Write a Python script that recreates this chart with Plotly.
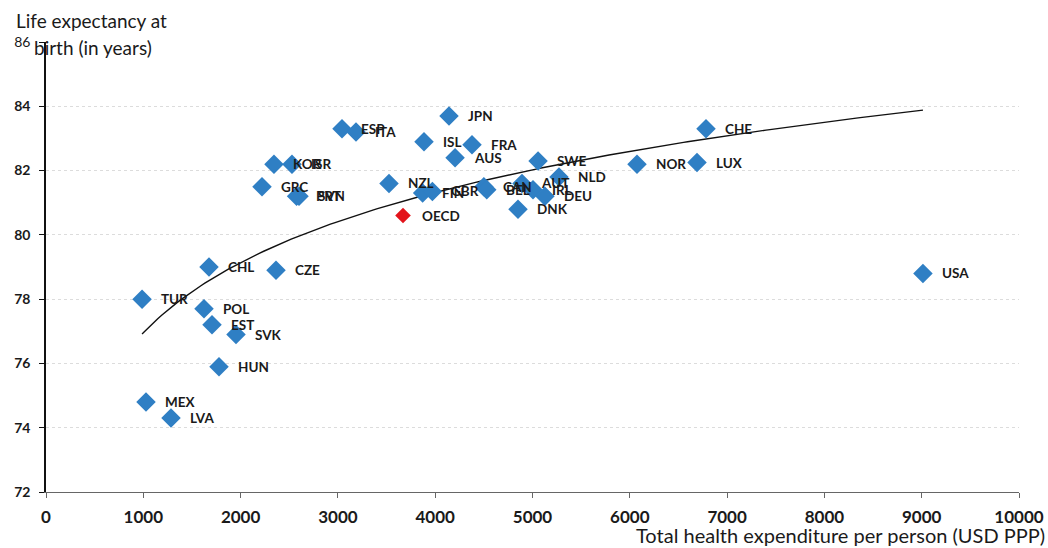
import numpy as np
import plotly.graph_objects as go

countries = ["MEX", "LVA", "TUR", "CHL", "CZE", "POL", "EST", "SVK", "HUN",
             "GRC", "KOR", "ISR", "PRT", "SVN", "ESP", "ITA", "NZL", "FIN",
             "GBR", "ISL", "JPN", "AUS", "FRA", "CAN", "BEL", "DNK", "AUT",
             "IRL", "SWE", "DEU", "NLD", "NOR", "LUX", "CHE", "USA"]
spending = [1028, 1285, 987, 1675, 2364, 1624, 1706, 1953, 1778,
            2220, 2343, 2528, 2575, 2600, 3042, 3186, 3525, 3871,
            3971, 3885, 4142, 4204, 4378, 4500, 4530, 4851, 4892,
            5005, 5057, 5128, 5272, 6074, 6691, 6783, 9013]
life_exp = [74.8, 74.3, 78.0, 79.0, 78.9, 77.7, 77.2, 76.9, 75.9,
            81.5, 82.2, 82.2, 81.2, 81.2, 83.3, 83.2, 81.6, 81.3,
            81.35, 82.9, 83.7, 82.4, 82.8, 81.5, 81.4, 80.8, 81.6,
            81.4, 82.3, 81.2, 81.8, 82.2, 82.25, 83.3, 78.8]

oecd_label = ["OECD"]
oecd_spending = [3669]
oecd_life_exp = [80.6]

x_ticks = [0, 1000, 2000, 3000, 4000, 5000, 6000, 7000, 8000, 9000, 10000]
y_ticks = [72, 74, 76, 78, 80, 82, 84, 86]
y_ticktext = ["72", "74", "76", "78", "80", "82", "84",
              "<span style='font-size:14px;font-weight:normal'>86</span>"]

# logarithmic trend line fitted to the countries
xs = np.array(spending, dtype=float)
ys = np.array(life_exp, dtype=float)
b, a = np.polyfit(np.log(xs), ys, 1)
xt = np.linspace(xs.min(), xs.max(), 200)
yt = a + b * np.log(xt)

fig = go.Figure()
fig.add_trace(go.Scatter(x=xt, y=yt, mode="lines",
                         line=dict(color="#111111", width=1.4),
                         hoverinfo="skip", showlegend=False))
fig.add_trace(go.Scatter(x=spending, y=life_exp, mode="markers",
                         marker=dict(symbol="diamond", size=15, color="#2f7fc4",
                                     line=dict(width=0)),
                         text=countries, showlegend=False))
fig.add_trace(go.Scatter(x=oecd_spending, y=oecd_life_exp, mode="markers",
                         marker=dict(symbol="diamond", size=12, color="#e3141b",
                                     line=dict(width=0)),
                         text=oecd_label, showlegend=False))

label_font = dict(family="Lato", size=13.5, color="#1a1a1a", weight="bold")
for name, xv, yv in zip(countries + oecd_label, spending + oecd_spending,
                        life_exp + oecd_life_exp):
    fig.add_annotation(x=xv, y=yv, text=name, showarrow=False,
                       xanchor="left", yanchor="middle", xshift=17,
                       font=label_font)

title_font = dict(family="Lato", size=19, color="#1a1a1a")
fig.add_annotation(xref="paper", yref="paper", x=-0.0329, y=1.0467,
                   xanchor="left", yanchor="middle", showarrow=False,
                   text="Life expectancy at", font=title_font)
fig.add_annotation(xref="paper", yref="paper", x=-0.0144, y=0.987,
                   xanchor="left", yanchor="middle", showarrow=False,
                   text="birth (in years)", font=title_font)
fig.add_annotation(xref="paper", yref="paper", x=1.0292, y=-0.0956,
                   xanchor="right", yanchor="middle", showarrow=False,
                   text="Total health expenditure per person (USD PPP)",
                   font=dict(family="Lato", size=20, color="#1a1a1a"))

fig.update_layout(
    width=1048, height=548,
    margin=dict(l=46, r=29, t=42, b=56, autoexpand=False),
    paper_bgcolor="white", plot_bgcolor="white",
    xaxis=dict(range=[0, 10000], tickvals=x_ticks,
               ticktext=[str(v) for v in x_ticks],
               showgrid=False, zeroline=False,
               showline=True, linecolor="#666666", linewidth=1,
               ticks="outside", ticklen=5, tickcolor="#666666",
               ticklabelstandoff=5,
               tickfont=dict(family="Lato", size=17, color="#1a1a1a", weight="bold")),
    yaxis=dict(range=[72, 86], tickvals=y_ticks, ticktext=y_ticktext,
               showgrid=True, gridcolor="#dcdcdc", griddash="dot", gridwidth=1,
               zeroline=False,
               showline=True, linecolor="#111111", linewidth=1.5,
               ticks="outside", ticklen=5, tickcolor="#111111",
               ticklabelstandoff=6,
               tickfont=dict(family="Lato", size=14, color="#1a1a1a", weight="bold")),
    font=dict(family="Lato"),
)

fig.write_html("out.html",
               config={"displayModeBar": False},
               post_script="document.body.style.margin='0';"
                           "document.body.style.overflow='hidden';")
